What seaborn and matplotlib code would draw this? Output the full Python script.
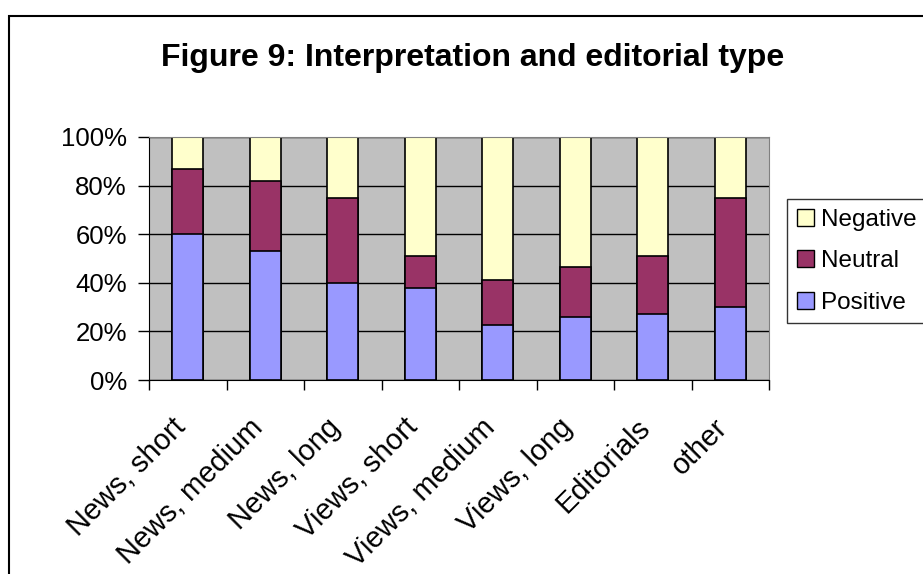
import pandas as pd
import seaborn as sns
import matplotlib.pyplot as plt
import matplotlib.transforms as mtransforms
from matplotlib.patches import Patch, Rectangle

categories = ["News, short", "News, medium", "News, long", "Views, short",
              "Views, medium", "Views, long", "Editorials", "other"]
positive = [60, 53, 40, 38, 22.5, 26, 27, 30]
neutral = [27, 29, 35, 13, 18.5, 20.5, 24, 45]
negative = [13, 18, 25, 49, 59, 53.5, 49, 25]

series = ["Negative", "Neutral", "Positive"]
colors = {"Positive": "#9999FF", "Neutral": "#993366", "Negative": "#FFFFCC"}

df = pd.DataFrame({"cat": categories, "Positive": positive,
                   "Neutral": neutral, "Negative": negative})
df["pos_top"] = df.Positive
df["neu_top"] = df.Positive + df.Neutral
df["neg_top"] = df.Positive + df.Neutral + df.Negative

plt.rcParams["font.family"] = ["Liberation Sans", "DejaVu Sans"]

fig = plt.figure(figsize=(9.23, 5.74), dpi=100)
ax = fig.add_axes([149 / 923, 1 - 380 / 574, (769 - 149) / 923, (380 - 137) / 574])
ax.set_facecolor("#C0C0C0")

# stacked: draw cumulative heights from the top layer down
for col, name in [("neg_top", "Negative"), ("neu_top", "Neutral"), ("pos_top", "Positive")]:
    sns.barplot(data=df, x="cat", y=col, color=colors[name], saturation=1,
                width=0.4, edgecolor="black", linewidth=1.2, ax=ax, errorbar=None)

ax.set_ylim(0, 100)
ax.set_xlim(-0.5, len(categories) - 0.5)
ax.set_yticks([0, 20, 40, 60, 80, 100])
ax.set_yticklabels([f"{v}%" for v in [0, 20, 40, 60, 80, 100]], fontsize=18.5)
ax.yaxis.grid(True, color="black", linewidth=1)
ax.set_axisbelow(True)
ax.set_xlabel("")
ax.set_ylabel("")

ax.set_xticks(range(len(categories)))
ax.set_xticklabels(categories, fontsize=21, rotation=45, ha="right",
                   rotation_mode="anchor", va="center")
ax.tick_params(axis="x", which="major", length=0, pad=31)
ax.set_xticks([i - 0.5 for i in range(len(categories) + 1)], minor=True)
ax.tick_params(axis="x", which="minor", length=7, width=1, direction="out")
ax.tick_params(axis="y", length=8, width=1, direction="out", pad=8)

# nudge rotated labels a little to the left, like the original
shift = mtransforms.ScaledTranslation(-7 / 100, 0, fig.dpi_scale_trans)
for lbl in ax.get_xticklabels():
    lbl.set_transform(lbl.get_transform() + shift)

for side in ["top", "right"]:
    ax.spines[side].set_color("#808080")
for side in ["left", "bottom"]:
    ax.spines[side].set_color("black")

handles = [Patch(facecolor=colors[s], edgecolor="black", linewidth=1) for s in series]
leg = fig.legend(handles, series, loc="upper left",
                 bbox_to_anchor=(787 / 923, 1 - 199 / 574), fontsize=17.5,
                 frameon=True, fancybox=False, edgecolor="black",
                 handlelength=0.7, handleheight=0.7, handletextpad=0.3,
                 labelspacing=0.8, borderpad=0.4, borderaxespad=0)
leg.get_frame().set_linewidth(1)

fig.text(473 / 923, 1 - 58 / 574, "Figure 9: Interpretation and editorial type",
         ha="center", va="center", fontsize=23, fontweight="bold")

fig.patches.append(Rectangle((9 / 923, -0.1), 1.2, 1 - 16 / 574 + 0.1,
                             transform=fig.transFigure, fill=False,
                             edgecolor="black", linewidth=1.5))

fig.savefig("out.png", dpi=100)
